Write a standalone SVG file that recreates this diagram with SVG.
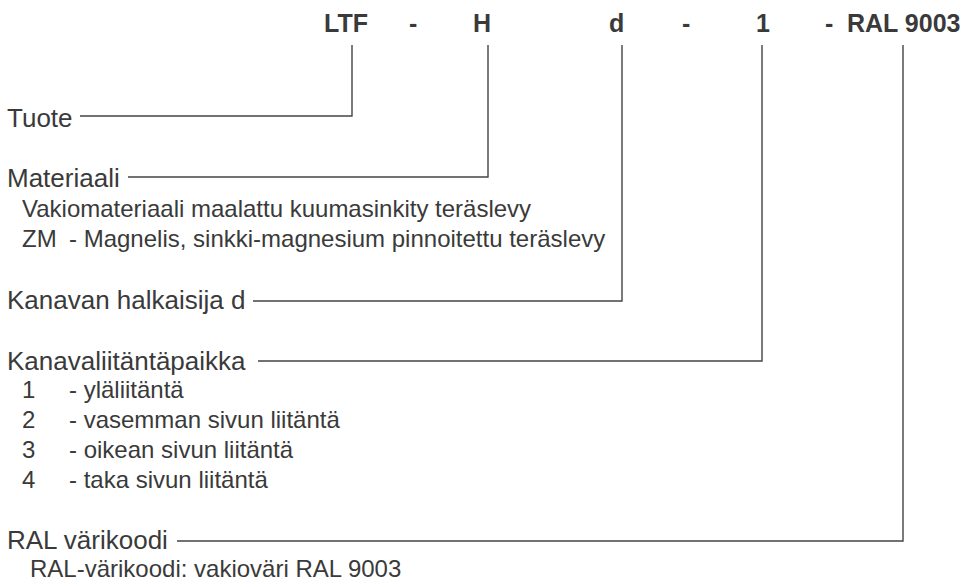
<svg xmlns="http://www.w3.org/2000/svg" width="968" height="587" viewBox="0 0 968 587">
<style>
text{font-family:"Liberation Sans",Arial,Helvetica,sans-serif;fill:#3a3a3a}
.h{font-size:25px;font-weight:bold}
.l{font-size:26px}
.s{font-size:24px}
.c{fill:none;stroke:#444;stroke-width:1.4}
</style>
<rect width="968" height="587" fill="#fff"/>
<g id="code">
<text class="h" y="32"><tspan x="324">LTF</tspan><tspan x="409">-</tspan><tspan x="473">H</tspan><tspan x="609">d</tspan><tspan x="682">-</tspan><tspan x="756">1</tspan><tspan x="825">-</tspan><tspan x="847">RAL 9003</tspan></text>
</g>
<g id="connectors">
<polyline class="c" points="80,116 352,116 352,45"/>
<polyline class="c" points="128,177 488,177 488,45"/>
<polyline class="c" points="253,301 622,301 622,45"/>
<polyline class="c" points="258,361 762,361 762,45"/>
<polyline class="c" points="177,541 903,541 903,45"/>
</g>
<g id="tuote"><text class="l" x="7" y="127">Tuote</text></g>
<g id="materiaali">
<text class="l" x="7" y="187">Materiaali</text>
<text class="s" x="22" y="217">Vakiomateriaali maalattu kuumasinkity teräslevy</text>
<text class="s" y="247"><tspan x="22">ZM</tspan><tspan x="69">- Magnelis, sinkki-magnesium pinnoitettu teräslevy</tspan></text>
</g>
<g id="halkaisija"><text class="l" x="7" y="309">Kanavan halkaisija d</text></g>
<g id="liitanta">
<text class="l" x="7" y="370">Kanavaliitäntäpaikka</text>
<text class="s" y="398"><tspan x="22">1</tspan><tspan x="69">- yläliitäntä</tspan></text>
<text class="s" y="428"><tspan x="22">2</tspan><tspan x="69">- vasemman sivun liitäntä</tspan></text>
<text class="s" y="458"><tspan x="22">3</tspan><tspan x="69">- oikean sivun liitäntä</tspan></text>
<text class="s" y="488"><tspan x="22">4</tspan><tspan x="69">- taka sivun liitäntä</tspan></text>
</g>
<g id="ral">
<text class="l" x="7" y="549">RAL värikoodi</text>
<text class="s" x="30" y="577">RAL-värikoodi: vakioväri RAL 9003</text>
</g>
</svg>
